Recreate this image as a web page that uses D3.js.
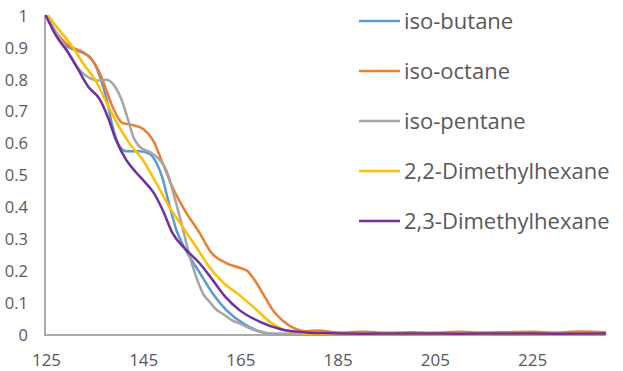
<!DOCTYPE html>
<html>
<head>
<meta charset="utf-8">
<script src="https://cdn.jsdelivr.net/npm/d3@7"></script>
<style>
  html, body { margin: 0; padding: 0; background: #fff; }
  svg { display: block; }
  text { font-family: "Open Sans", "Noto Sans", sans-serif; fill: #595959; }
</style>
</head>
<body>
<svg id="chart" width="623" height="371"></svg>
<script>
// ---- data (temperature, fraction remaining) ----
const seriesNames = ["iso-butane", "iso-octane", "iso-pentane", "2,2-Dimethylhexane", "2,3-Dimethylhexane"];
const seriesColors = ["#5B9BD5", "#ED7D31", "#A5A5A5", "#FFC000", "#7030A0"];
const xTicks = [125, 145, 165, 185, 205, 225];
const yTicks = [0, 0.1, 0.2, 0.3, 0.4, 0.5, 0.6, 0.7, 0.8, 0.9, 1];

const isoButane = [[125,1.0],[126.4,0.966],[127.9,0.92],[129.9,0.9],[132.6,0.884],[134,0.872],[135,0.85],[136.1,0.81],[137.5,0.737],[138.7,0.653],[140.2,0.59],[141.6,0.576],[144.3,0.576],[146.3,0.568],[147.7,0.54],[149,0.49],[150,0.43],[151.8,0.33],[153.9,0.262],[156.6,0.196],[159.3,0.13],[162.1,0.078],[165.4,0.038],[168.9,0.012],[172,0.003],[180,0.002],[190,0.003],[200,0.002],[210,0.003],[220,0.002],[230,0.003],[240,0.002]];
const isoOctane = [[125,1.0],[127,0.95],[129.9,0.905],[132.6,0.887],[134.6,0.86],[136.1,0.82],[137,0.785],[138.7,0.715],[140.8,0.664],[142.9,0.658],[145,0.646],[147,0.611],[149,0.539],[151,0.464],[153.9,0.382],[156.6,0.32],[158.9,0.26],[162.3,0.224],[165,0.21],[166.5,0.2],[168,0.17],[170,0.12],[171.8,0.075],[173.7,0.045],[176.5,0.018],[178.5,0.012],[181,0.014],[185,0.008],[190,0.01],[195,0.007],[200,0.009],[205,0.007],[210,0.01],[215,0.008],[220,0.009],[225,0.01],[230,0.008],[235,0.011],[240,0.009]];
const isoPentane = [[125,1.0],[127,0.95],[129.3,0.893],[132,0.83],[134,0.805],[135.5,0.798],[137.5,0.8],[139.2,0.778],[140.8,0.727],[141.9,0.674],[143,0.62],[144.3,0.59],[146.3,0.574],[148.4,0.549],[149.8,0.515],[151,0.455],[152,0.4],[153.2,0.33],[154.5,0.25],[155.5,0.2],[157.3,0.13],[158.6,0.105],[160,0.08],[161.4,0.066],[163.4,0.045],[165,0.035],[166.8,0.022],[169,0.01],[171,0.004],[180,0.003],[190,0.002],[200,0.003],[210,0.002],[220,0.003],[230,0.002],[240,0.003]];
const dmh22 = [[125.5,1.0],[127.5,0.96],[129.9,0.915],[132.6,0.852],[135.5,0.79],[137.5,0.727],[139.6,0.664],[142.2,0.6],[144.9,0.549],[147.7,0.476],[150.4,0.401],[153.1,0.339],[155.9,0.276],[158.6,0.213],[161.4,0.165],[164.8,0.125],[168.6,0.075],[171.3,0.038],[174,0.016],[177,0.006],[180,0.004],[190,0.003],[200,0.004],[210,0.003],[220,0.004],[230,0.003],[240,0.004]];
const dmh23 = [[125,1.0],[127,0.94],[129.6,0.884],[131.7,0.83],[133.7,0.778],[136,0.74],[137.8,0.68],[139.4,0.611],[141.5,0.549],[143.5,0.51],[145.3,0.48],[147.2,0.445],[149,0.392],[151,0.32],[153.9,0.266],[156.6,0.225],[159.3,0.172],[162,0.118],[164.8,0.078],[168.9,0.042],[173.3,0.018],[178.5,0.008],[182,0.006],[190,0.004],[200,0.005],[210,0.004],[220,0.005],[230,0.004],[240,0.005]];

const allSeries = [isoButane, isoOctane, isoPentane, dmh22, dmh23];

// ---- layout ----
const svg = d3.select("#chart");
const x = d3.scaleLinear().domain([125, 240]).range([46, 605]);
const y = d3.scaleLinear().domain([0, 1]).range([335, 16]);

// axes
const gx = svg.append("g").attr("transform", `translate(0,${y(0)})`)
  .call(d3.axisBottom(x).tickValues(xTicks).tickSize(0).tickPadding(0));
gx.select(".domain").attr("stroke", "#ABABAB").attr("stroke-width", 2)
  .attr("d", `M${x(125) - 1},0H${x(240)}`);
gx.selectAll("text").style("font-size", "17px").attr("fill", "#595959")
  .attr("dy", null).attr("y", 31);

const gy = svg.append("g").attr("transform", `translate(${x(125) - 1},0)`)
  .call(d3.axisLeft(y).tickValues(yTicks).tickFormat(d3.format("")).tickSize(0).tickPadding(17));
gy.select(".domain").attr("stroke", "#ABABAB").attr("stroke-width", 2)
  .attr("d", `M0,${y(1)}V${y(0) + 1}`);
gy.selectAll("text").style("font-size", "16.5px").attr("fill", "#595959");

// lines
const line = d3.line().x(d => x(d[0])).y(d => y(d[1])).curve(d3.curveMonotoneX);
svg.append("g").selectAll("path").data(allSeries).join("path")
  .attr("d", line)
  .attr("fill", "none")
  .attr("stroke", (d, i) => seriesColors[i])
  .attr("stroke-width", 2.5)
  .attr("stroke-linejoin", "round")
  .attr("stroke-linecap", "round");

// legend
const legend = svg.append("g");
seriesNames.forEach((name, i) => {
  const ly = 21 + i * 50;
  legend.append("line").attr("x1", 359).attr("x2", 400).attr("y1", ly).attr("y2", ly)
    .attr("stroke", seriesColors[i]).attr("stroke-width", 2.5);
  legend.append("text").attr("x", 404).attr("y", ly).attr("dy", "0.35em")
    .style("font-size", "22px").text(name);
});
</script>
</body>
</html>
